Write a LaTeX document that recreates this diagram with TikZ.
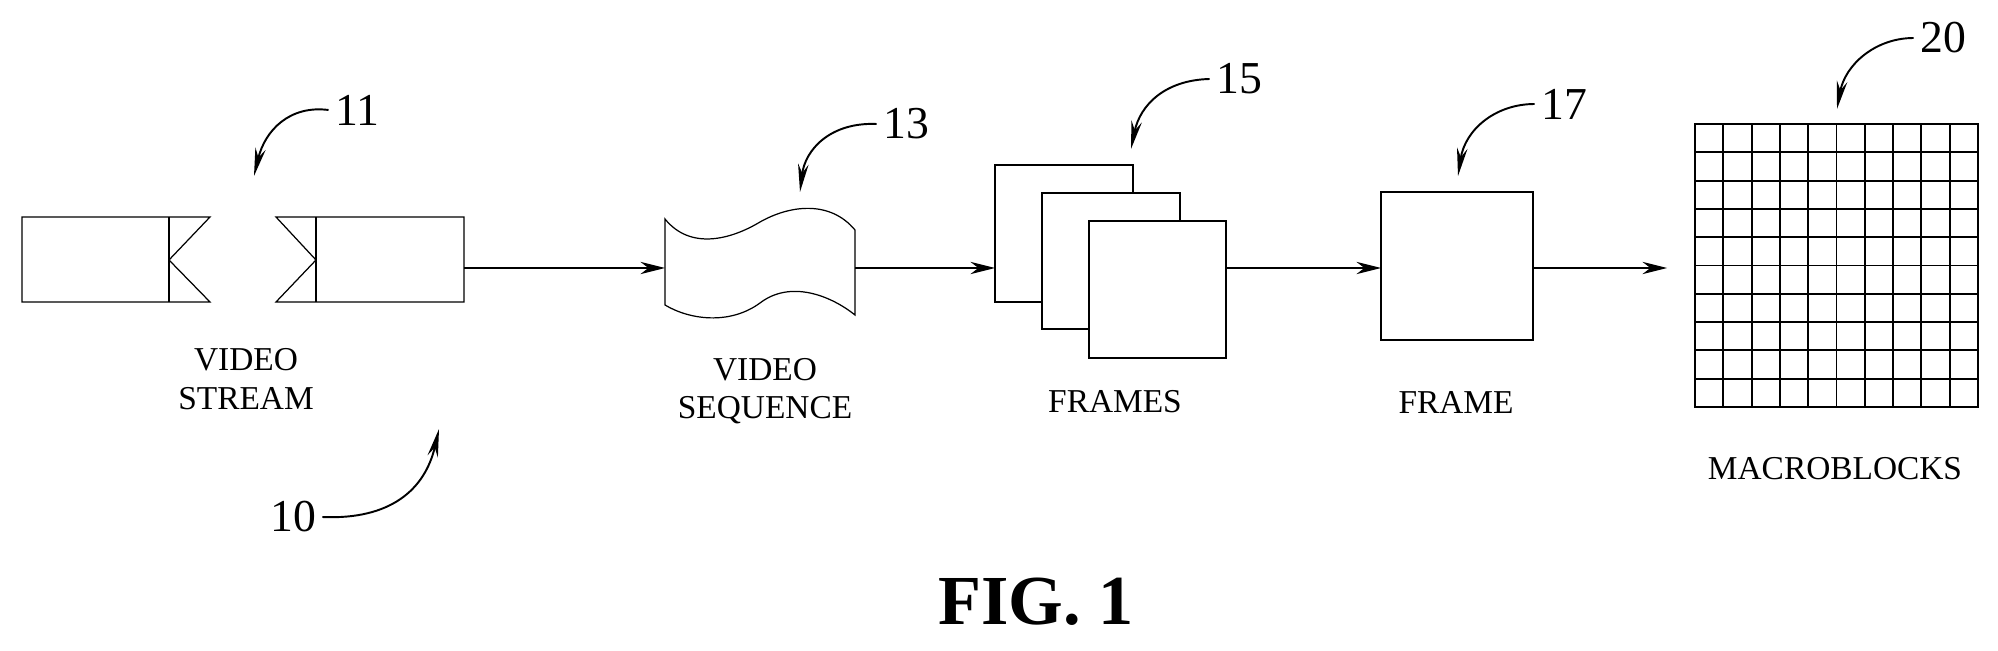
\documentclass[tikz,border=0pt]{standalone}
\usepackage{fontspec}
\setmainfont{Liberation Serif}
\usetikzlibrary{arrows.meta}
\begin{document}
\begin{tikzpicture}[x=0.02cm, y=-0.02cm, line width=0.7pt,
	flow/.style={-{Stealth[length=14pt,width=7pt]}},
	lead/.style={-{Stealth[length=16pt,width=6pt]}, line width=1.1pt},
	lbl/.style={font=\fontsize{19}{22}\selectfont, align=center},
	num/.style={font=\fontsize{26}{28}\selectfont}]

	\useasboundingbox (0,0) rectangle (1998,651);

	% video stream
	\coordinate (S1) at (22,217);
	\coordinate (S2) at (210,217);
	\coordinate (S3) at (169,260);
	\coordinate (S4) at (210,302);
	\coordinate (S5) at (22,302);
	\coordinate (T1) at (276,217);
	\coordinate (T2) at (464,217);
	\coordinate (T3) at (464,302);
	\coordinate (T4) at (276,302);
	\coordinate (T5) at (316,260);
	\draw (S1) -- (S2) -- (S3) -- (S4) -- (S5) -- cycle;
	\draw (169,217) -- (169,302);
	\draw (T1) -- (T2) -- (T3) -- (T4) -- (T5) -- cycle;
	\draw (316,217) -- (316,302);
	\coordinate (Sout) at (464,268);

	% video sequence
	\coordinate (Q1) at (665,219);
	\coordinate (Q2) at (855,230);
	\coordinate (Q3) at (855,315);
	\coordinate (Q4) at (665,305);
	\draw (Q1) .. controls (690,250) and (730,240) .. (760,222) .. controls (790,205) and (830,200) .. (Q2)
		-- (Q3) .. controls (830,295) and (790,280) .. (760,303) .. controls (730,325) and (690,320) .. (Q4) -- cycle;
	\coordinate (Qin) at (665,268);
	\coordinate (Qout) at (855,268);

	% frames
	\draw (995,165) rectangle (1133,302);
	\draw[fill=white] (1042,193) rectangle (1180,329);
	\draw[fill=white] (1089,221) rectangle (1226,358);
	\coordinate (Fin) at (995,268);
	\coordinate (Fout) at (1226,268);

	% frame
	\draw[line width=1.1pt] (1381,192) rectangle (1533,340);
	\coordinate (Gin) at (1381,268);
	\coordinate (Gout) at (1533,268);

	% macroblocks
	\draw[line width=1.1pt] (1695,124) rectangle (1978,407);
	\foreach \i in {1,...,9} {
		\draw[line width=1.1pt] (1695+28.3*\i,124) -- (1695+28.3*\i,407);
		\draw[line width=1.1pt] (1695,124+28.3*\i) -- (1978,124+28.3*\i);
	}
	\coordinate (Min) at (1667,268);

	\draw[flow] (Sout) -- (Qin);
	\draw[flow] (Qout) -- (Fin);
	\draw[flow] (Fout) -- (Gin);
	\draw[flow] (Gout) -- (Min);

	\node[lbl] at (246,379) {VIDEO\\STREAM};
	\node[lbl] at (765,391) {VIDEO\\SEQUENCE};
	\node[lbl] at (1115,402) {FRAMES};
	\node[lbl] at (1456,402) {FRAME};
	\node[lbl] at (1835,469) {MACROBLOCKS};
	\node[font=\fontsize{40}{44}\selectfont\bfseries] at (1036,602) {FIG. 1};

	% reference numerals
	\node[num] (n11) at (357,110) {11};
	\node[num] (n13) at (906,124) {13};
	\node[num] (n15) at (1239,79) {15};
	\node[num] (n17) at (1564,104) {17};
	\node[num] (n20) at (1943,38) {20};
	\node[num] (n10) at (293,517) {10};
	\draw[lead] (n11.west) .. controls (290,105) and (265,130) .. (254,176);
	\draw[lead] (n13.west) .. controls (830,122) and (805,150) .. (800,192);
	\draw[lead] (n15.west) .. controls (1165,80) and (1140,105) .. (1131,149);
	\draw[lead] (n17.west) .. controls (1495,104) and (1465,130) .. (1458,176);
	\draw[lead] (n20.west) .. controls (1875,38) and (1845,65) .. (1837,109);
	\draw[lead] (n10.east) .. controls (390,520) and (425,490) .. (439,429);
\end{tikzpicture}
\end{document}
